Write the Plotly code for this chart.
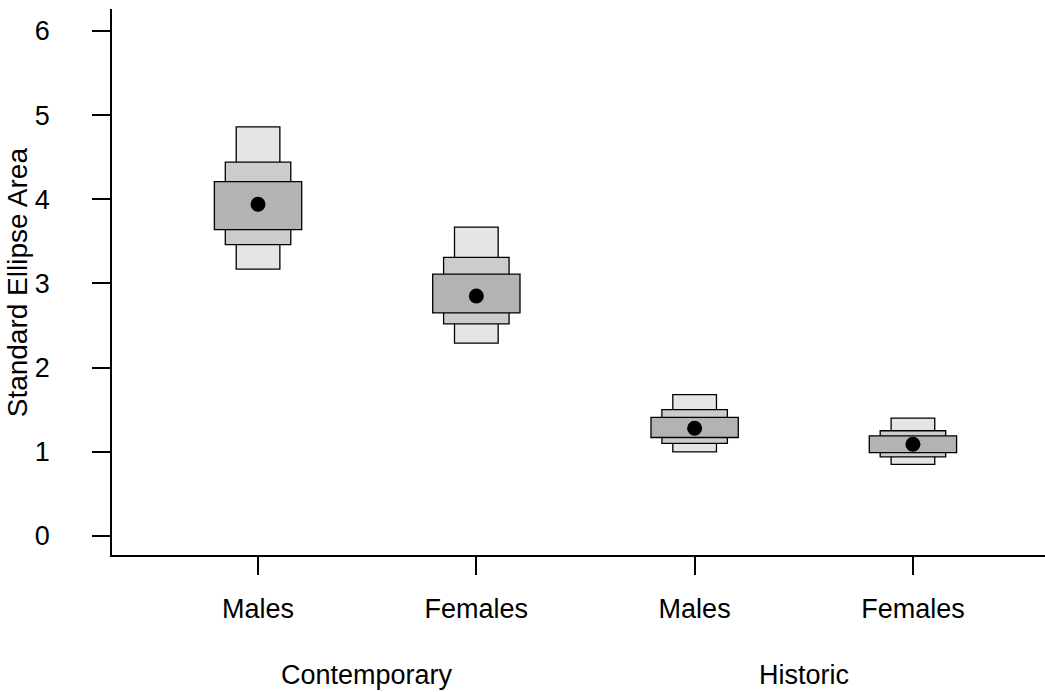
import plotly.graph_objects as go

# Data
positions = [1, 2, 3, 4]
tick_labels = ["Males", "Females", "Males", "Females"]
group_labels = ["Contemporary", "Historic"]
group_centers = [1.5, 3.5]

light_low = [3.17, 2.29, 1.00, 0.85]
light_high = [4.86, 3.67, 1.68, 1.40]
mid_low = [3.46, 2.52, 1.10, 0.94]
mid_high = [4.44, 3.31, 1.50, 1.25]
dark_low = [3.64, 2.65, 1.17, 0.99]
dark_high = [4.21, 3.11, 1.41, 1.19]
mode_vals = [3.94, 2.85, 1.28, 1.09]

FONT = "Liberation Sans, Arial, Helvetica, sans-serif"

fig = go.Figure()

for low, high, w, col in [
    (light_low, light_high, 0.2, "#e5e5e5"),
    (mid_low, mid_high, 0.3, "#cccccc"),
    (dark_low, dark_high, 0.4, "#b3b3b3"),
]:
    fig.add_trace(go.Bar(
        x=positions,
        y=[h - l for l, h in zip(low, high)],
        base=low,
        width=[w] * len(positions),
        marker=dict(color=col, line=dict(color="black", width=1.3)),
        showlegend=False,
        hoverinfo="skip",
    ))

fig.add_trace(go.Scatter(
    x=positions, y=mode_vals, mode="markers",
    marker=dict(color="black", size=15, line=dict(width=0)),
    showlegend=False,
))

for lab, cx in zip(group_labels, group_centers):
    fig.add_annotation(
        x=cx, xref="x", y=-0.219, yref="paper",
        text=lab, showarrow=False, xanchor="center", yanchor="middle",
        font=dict(family=FONT, size=27, color="black"),
    )

# y-axis title
fig.add_annotation(
    x=-0.1015, xref="paper", y=0.5, yref="paper",
    text="Standard Ellipse Area", textangle=-90, showarrow=False,
    xanchor="center", yanchor="middle",
    font=dict(family=FONT, size=28, color="black"),
)

fig.update_layout(
    width=1045, height=692,
    margin=dict(l=112, r=0, t=9, b=137),
    paper_bgcolor="white", plot_bgcolor="white",
    barmode="overlay",
    font=dict(family=FONT, size=27, color="black"),
    xaxis=dict(
        range=[0.331, 4.605],
        tickvals=positions, ticktext=tick_labels,
        ticks="outside", ticklen=18, tickwidth=1.5, tickcolor="black",
        showline=True, linecolor="black", linewidth=1.7,
        showgrid=False, zeroline=False,
        ticklabelstandoff=11,
        tickfont=dict(family=FONT, size=27, color="black"),
    ),
    yaxis=dict(
        range=[-0.226, 6.26],
        tickvals=[0, 1, 2, 3, 4, 5, 6],
        ticks="outside", ticklen=18, tickwidth=1.5, tickcolor="black",
        showline=True, linecolor="black", linewidth=1.7,
        showgrid=False, zeroline=False,
        ticklabelstandoff=37,
        tickfont=dict(family=FONT, size=27, color="black"),
    ),
)

fig.write_html("out.html")
